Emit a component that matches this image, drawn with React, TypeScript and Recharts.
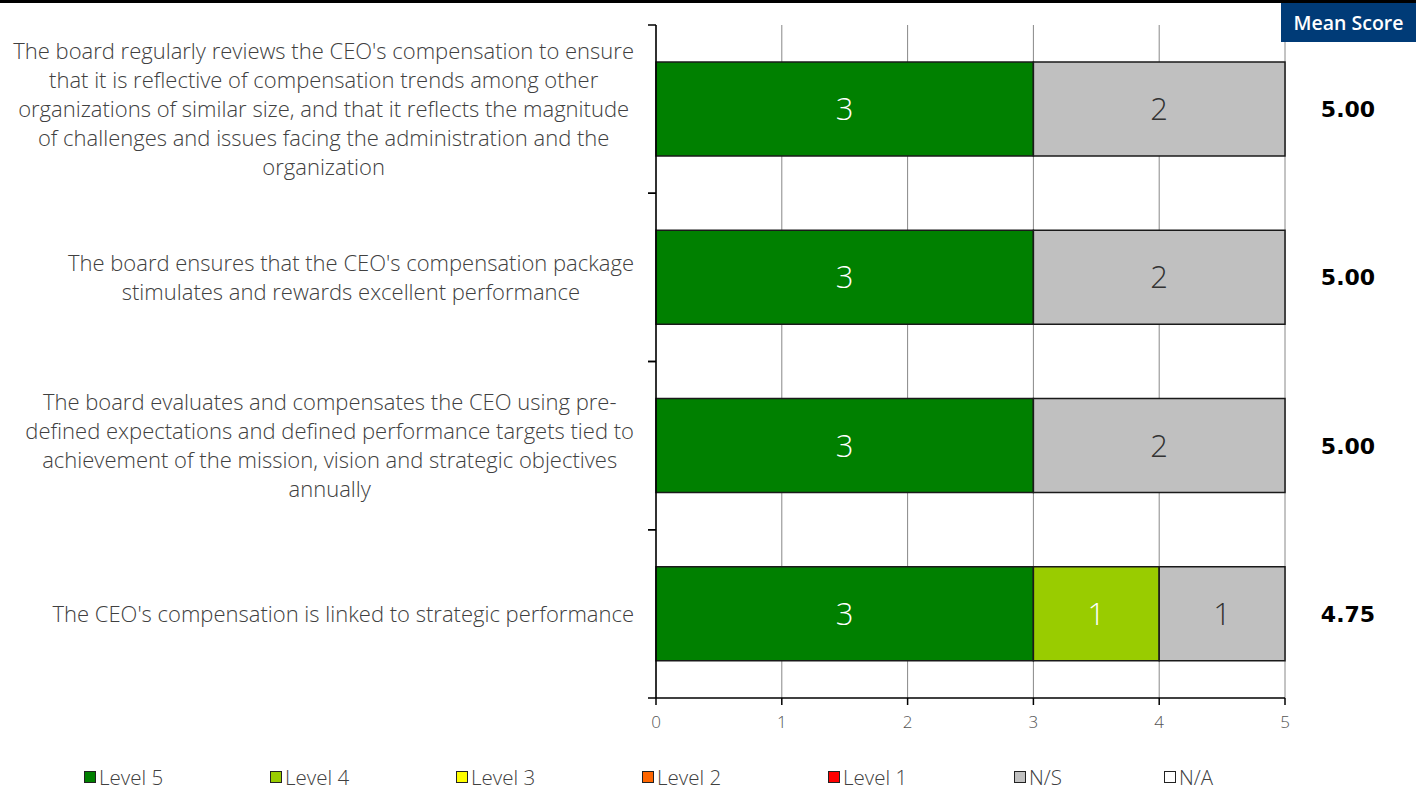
// stacked horizontal bar chart: CEO compensation survey results

import { BarChart, Bar, XAxis, YAxis, CartesianGrid, Legend, LabelList } from "recharts";

const questions = [
  "The board regularly reviews the CEO's compensation to ensure\nthat it is reflective of compensation trends among other\norganizations of similar size, and that it reflects the magnitude\nof challenges and issues facing the administration and the\norganization",
  "The board ensures that the CEO's compensation package\nstimulates and rewards excellent performance",
  "The board evaluates and compensates the CEO using pre-\ndefined expectations and defined performance targets tied to\nachievement of the mission, vision and strategic objectives\nannually",
  "The CEO's compensation is linked to strategic performance",
];

const level5 = [3, 3, 3, 3];
const level4 = [0, 0, 0, 1];
const level3 = [0, 0, 0, 0];
const level2 = [0, 0, 0, 0];
const level1 = [0, 0, 0, 0];
const notSure = [2, 2, 2, 1];
const notApplicable = [0, 0, 0, 0];
const meanScores = ["5.00", "5.00", "5.00", "4.75"];
const xTicks = [0, 1, 2, 3, 4, 5];

const series = [
  { key: "l5", name: "Level 5", values: level5, color: "#008000", text: "#ffffff" },
  { key: "l4", name: "Level 4", values: level4, color: "#99cc00", text: "#ffffff" },
  { key: "l3", name: "Level 3", values: level3, color: "#ffff00", text: "#333333" },
  { key: "l2", name: "Level 2", values: level2, color: "#ff6600", text: "#ffffff" },
  { key: "l1", name: "Level 1", values: level1, color: "#ff0000", text: "#ffffff" },
  { key: "ns", name: "N/S", values: notSure, color: "#c0c0c0", text: "#333333" },
  { key: "na", name: "N/A", values: notApplicable, color: "#ffffff", text: "#333333" },
];

const data = questions.map((q, i) => {
  const row: Record<string, string | number> = { name: q, mean: meanScores[i] };
  series.forEach((s) => (row[s.key] = s.values[i]));
  return row;
});

const W = 1421;
const H = 792;
const PLOT_LEFT = 656;
const PLOT_TOP = 25;
const PLOT_BOTTOM = 698;
const BAND = (PLOT_BOTTOM - PLOT_TOP) / questions.length;
const LABEL_FONT = '300 22px "Open Sans"';
const LEGEND_FONT = '300 20.5px "Open Sans"';
const TEXT_COLOR = "#404040";

let measureCtx: CanvasRenderingContext2D | null = null;
function measure(text: string) {
  if (!measureCtx) measureCtx = document.createElement("canvas").getContext("2d");
  if (!measureCtx) return text.length * 10;
  measureCtx.font = LABEL_FONT;
  return measureCtx.measureText(text).width;
}

function QuestionTick(props: any) {
  const { y, payload } = props;
  const lines: string[] = String(payload.value).split("\n");
  const maxW = Math.max(...lines.map(measure));
  const cx = 634 - maxW / 2;
  const lh = 29;
  return (
    <g>
      <line x1={PLOT_LEFT - 8} x2={PLOT_LEFT} y1={y - BAND / 2} y2={y - BAND / 2} stroke="#000" strokeWidth={1.5} />
      <line x1={PLOT_LEFT - 8} x2={PLOT_LEFT} y1={y + BAND / 2} y2={y + BAND / 2} stroke="#000" strokeWidth={1.5} />
      <text textAnchor="middle" fill={TEXT_COLOR} style={{ font: LABEL_FONT }}>
        {lines.map((l, i) => (
          <tspan key={i} x={cx} y={y + (i - (lines.length - 1) / 2) * lh} dy="0.36em">
            {l}
          </tspan>
        ))}
      </text>
    </g>
  );
}

function ValueTick(props: any) {
  const { x, payload } = props;
  return (
    <text
      x={x}
      y={PLOT_BOTTOM + 24}
      dy="0.36em"
      textAnchor="middle"
      fill="#555555"
      style={{ fontFamily: '"Open Sans"', fontWeight: 300, fontSize: 17 }}
    >
      {payload.value}
    </text>
  );
}

function MeanTick(props: any) {
  const { y, payload } = props;
  const idx = questions.indexOf(payload.value);
  return (
    <text
      x={1348}
      y={y}
      dy="0.36em"
      textAnchor="middle"
      fill="#000"
      style={{ fontFamily: '"DejaVu Sans"', fontWeight: 700, fontSize: 22 }}
    >
      {meanScores[idx]}
    </text>
  );
}

function renderLegend() {
  return (
    <div style={{ display: "flex", alignItems: "center", height: 30, paddingLeft: 84 }}>
      {series.map((s) => (
        <div
          key={s.key}
          style={{ display: "flex", alignItems: "center", width: s.key === "ns" ? 150 : 186 }}
        >
          <span
            style={{
              width: 10,
              height: 10,
              background: s.color,
              border: "1.5px solid #222",
              marginRight: 3,
            }}
          />
          <span style={{ font: LEGEND_FONT, color: TEXT_COLOR }}>{s.name}</span>
        </div>
      ))}
    </div>
  );
}

export default function App() {
  return (
    <div style={{ position: "absolute", left: 0, top: 0, width: W, height: H, background: "#fff" }}>
      <div style={{ position: "absolute", left: 0, top: 0, width: 1416, height: 3, background: "#000" }} />
      <div
        style={{
          position: "absolute",
          left: 1281,
          top: 3,
          width: 135,
          height: 39,
          background: "#003b77",
          color: "#fff",
          fontFamily: '"Open Sans"',
          fontWeight: 600,
          fontSize: 19.5,
          display: "flex",
          alignItems: "center",
          justifyContent: "center",
          zIndex: 2,
        }}
      >
        Mean Score
      </div>
      <BarChart
        width={W}
        height={H}
        data={data}
        layout="vertical"
        barCategoryGap="22%"
        margin={{ top: PLOT_TOP, right: 0, bottom: 0, left: 0 }}
      >
        <CartesianGrid horizontal={false} stroke="#888" strokeWidth={1} />
        <XAxis
          type="number"
          domain={[0, 5]}
          ticks={xTicks}
          height={64}
          tickSize={7}
          stroke="#000"
          axisLine={{ stroke: "#000", strokeWidth: 1.5 }}
          tickLine={{ stroke: "#000", strokeWidth: 1.5 }}
          tick={<ValueTick />}
        />
        <YAxis
          yAxisId="left"
          type="category"
          dataKey="name"
          width={PLOT_LEFT}
          tickLine={false}
          axisLine={{ stroke: "#000", strokeWidth: 1.5 }}
          tick={<QuestionTick />}
          interval={0}
        />
        <YAxis
          yAxisId="right"
          orientation="right"
          type="category"
          dataKey="name"
          width={W - 1285}
          tickLine={false}
          axisLine={false}
          tick={<MeanTick />}
          interval={0}
        />
        <Legend verticalAlign="bottom" height={30} content={renderLegend} />
        {series.map((s) => (
          <Bar
            key={s.key}
            yAxisId="left"
            dataKey={s.key}
            name={s.name}
            stackId="a"
            fill={s.color}
            stroke="#1a1a1a"
            strokeWidth={1.5}
            isAnimationActive={false}
          >
            <LabelList
              dataKey={s.key}
              position="center"
              formatter={(v: any) => (Number(v) > 0 ? v : "")}
              fill={s.text}
              style={{ fontFamily: '"Open Sans"', fontWeight: 300, fontSize: 31 }}
            />
          </Bar>
        ))}
      </BarChart>
    </div>
  );
}
